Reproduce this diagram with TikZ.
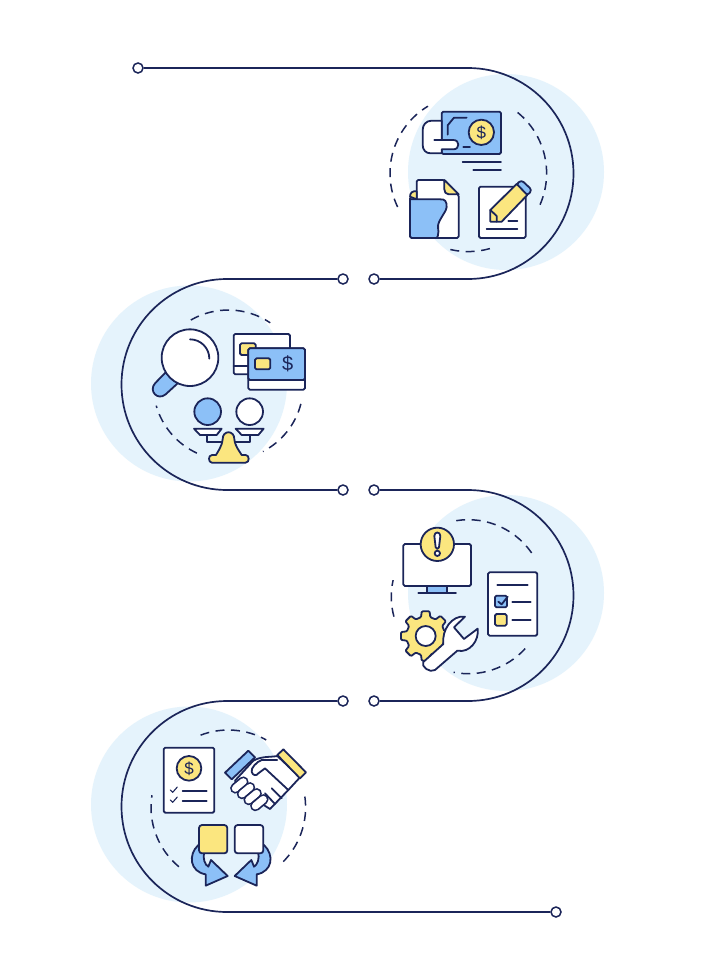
\documentclass[tikz,border=0pt]{standalone}
\usepackage{fontspec}
\setsansfont{Liberation Sans}
\definecolor{navy}{HTML}{1B2559}
\definecolor{skyblue}{HTML}{8CC0F7}
\definecolor{paleblue}{HTML}{E5F3FC}
\definecolor{lemon}{HTML}{FBE67F}
\begin{document}
\begin{tikzpicture}
		[x=1pt,y=1pt,yscale=-1]
			\tikzstyle{dot}=[circle, draw=navy, fill=white, line width=1.5pt,
		inner sep=0pt, minimum width=10pt]
			\tikzstyle{link}=[draw=navy, line width=1.7pt]
			\tikzstyle{ring}=[draw=navy, line width=1.5pt, dash pattern=on 9pt off 6.5pt]
			\tikzstyle{icon}=[draw=navy, line width=1.8pt, line join=round, line cap=round]
			\tikzstyle{box}=[icon, rounded corners=1.5pt]
			\tikzstyle{money}=[font=\sffamily, text=navy, inner sep=0pt]
		\path[fill=white,use as bounding box] (0,0) rectangle (703,980);
		%-----backdrop
		 \foreach \cx/\cy in {506/172, 189/383.5, 506/593, 189/804.5}
		 \fill[paleblue] (\cx,\cy) circle (98);
		 
		 \foreach \cx/\cy/\rr/\from/\to in {468.3/173.3/78.3/-51/26, 468.3/173.3/78.3/74/107, 468.3/173.3/78.3/154.5/239,
		 228.3/385/75/-120/-56, 228.3/385/75/14.6/62.5, 228.3/385/75/114.8/164,
		 468.3/596.7/77/-99/-31, 468.3/596.7/77/42.4/101, 468.3/596.7/77/165/192.4,
		 228.3/807.3/77.3/-111/-60.6, 228.3/807.3/77.3/-8/46, 228.3/807.3/77.3/129.7/189}
		 \draw[ring] (\cx,\cy)+(\from:\rr) arc[start angle=\from,end angle=\to,radius=\rr];
		 
		%-----path
		 \node[dot] (S)  at (138,68) {};
		 \node[dot] (A1) at (374,279) {};
		 \node[dot] (A2) at (343,279) {};
		 \node[dot] (B1) at (343,490) {};
		 \node[dot] (B2) at (374,490) {};
		 \node[dot] (C1) at (374,701) {};
		 \node[dot] (C2) at (343,701) {};
		 \node[dot] (E)  at (556,912) {};
		 
		 \draw[link] (S) -- (468,68) arc[start angle=-90,end angle=90,radius=105.5] -- (A1);
		 \draw[link] (A2) -- (227,279) arc[start angle=270,end angle=90,radius=105.5] -- (B1);
		 \draw[link] (B2) -- (468,490) arc[start angle=-90,end angle=90,radius=105.5] -- (C1);
		 \draw[link] (C2) -- (227,701) arc[start angle=270,end angle=90,radius=105.5] -- (E);
		 
		%-----first icon
		 \begin{scope}[shift={(380,60)},scale=1/3]
		  \draw[box,fill=skyblue] (185,155) rectangle (363,282);
		  \draw[icon] (203,224) -- (203,196) -- (222,173) -- (260,173);
		  \draw[icon] (250,262) -- (270,262);
		  \draw[icon,fill=lemon] (304,217) circle (38);
		  \node[money,font=\sffamily\fontsize{17}{17}\selectfont] (coinA) at (304,217) {\$};
		  \draw[icon,fill=white] (185,240) -- (185,182) -- (155,182) .. controls (138,182) and (128,195) .. (128,210) -- (128,255)
		   .. controls (128,270) and (138,280) .. (152,280) -- (185,280) -- (185,268) -- (220,268)
		   .. controls (240,268) and (240,240) .. (220,240) -- (163,240);
		  \draw[icon] (248,305) -- (363,305);
		  \draw[icon] (280,329) -- (363,329);
		  % sheet and folder
		  \draw[box,fill=white] (110,395) -- (110,360) -- (193,360) -- (236,405) -- (236,534) -- (170,534) -- (110,534) -- cycle;
		  \draw[icon,fill=lemon] (193,360) -- (236,403) -- (206,403) .. controls (197,403) and (193,395) .. (193,388) -- cycle;
		  \draw[icon,fill=lemon] (110,394) .. controls (98,392) and (90,398) .. (90,410) -- (110,418) -- cycle;
		  \draw[box,fill=skyblue] (90,410) .. controls (90,418) and (95,418) .. (105,418) -- (185,418)
		   .. controls (200,420) and (203,440) .. (195,455) .. controls (180,480) and (172,490) .. (175,510)
		   .. controls (176,522) and (172,534) .. (165,534) -- (90,534) -- cycle;
		  % note and pencil
		  \draw[box,fill=white] (297,380) rectangle (437,534);
		  \draw[icon] (320,508) -- (412,508);
		  \draw[icon] (385,484) -- (412,484);
		  \draw[icon,fill=skyblue,rounded corners=3pt] (408,374) -- (424,360) -- (456,390) -- (442,407) -- cycle;
		  \draw[icon,fill=lemon] (331,450) -- (410,372) -- (442,405) -- (365,485) -- (331,485) -- cycle;
		  \draw[icon] (331,450) -- (350,468) -- (350,485);
		 \end{scope}
		 
		%-----second icon
		 \begin{scope}[shift={(85,275)},scale=1/3]
		  \draw[icon,fill=skyblue] (242,292) -- (210,325) .. controls (190,348) and (218,378) .. (242,358) -- (278,325) -- cycle;
		  \draw[icon,fill=white] (315,248) circle (85);
		  \draw[icon] (315,193) arc[start angle=-90,end angle=0,radius=58];
		  % cards
		  \draw[box,fill=white] (446,177) rectangle (615,298);
		  \draw[icon] (446,272) -- (490,272);
		  \draw[box,fill=lemon] (465,205) rectangle (512,240);
		  \draw[box,fill=white] (490,220) rectangle (660,344);
		  \draw[box,fill=skyblue] (490,220) rectangle (660,315);
		  \draw[box,fill=lemon] (510,250) rectangle (556,283);
		  \node[money,font=\sffamily\fontsize{20}{20}\selectfont] (cardB) at (608,267) {\$};
		  % balance
		  \draw[icon,fill=skyblue] (368,410) circle (40);
		  \draw[icon,fill=white] (494,410) circle (40);
		  \draw[icon] (367,480) -- (367,500) -- (495,500) -- (495,480);
		  \draw[icon,fill=white] (327,461) -- (410,461) -- (395,480) -- (345,480) -- cycle;
		  \draw[icon,fill=white] (452,461) -- (536,461) -- (520,480) -- (470,480) -- cycle;
		  \draw[icon,fill=lemon] (413,492) .. controls (413,465) and (448,465) .. (448,492)
		   .. controls (450,515) and (465,530) .. (470,540) -- (482,540)
		   .. controls (494,540) and (494,563) .. (482,563) -- (381,563)
		   .. controls (369,563) and (369,540) .. (381,540) -- (393,540)
		   .. controls (398,530) and (411,515) .. (413,492) -- cycle;
		 \end{scope}
		 
		%-----third icon
		 \begin{scope}[shift={(380,490)},scale=1/3]
		  \draw[icon,fill=skyblue] (142,288) rectangle (202,310);
		  \draw[box,fill=white] (70,162) rectangle (273,288);
		  \draw[icon] (115,310) -- (228,310);
		  \draw[icon,fill=lemon] (172,163) circle (50);
		  \draw[icon,fill=white] (163,138) .. controls (163,124) and (181,124) .. (181,138) -- (177,172) .. controls (176,178) and (168,178) .. (167,172) -- cycle;
		  \draw[icon,fill=white] (172,190) circle (8);
		  % list
		  \draw[box,fill=white] (324,247) rectangle (472,437);
		  \draw[icon] (352,284) -- (443,284);
		  \draw[box,fill=skyblue] (345,317) rectangle (381,352);
		  \draw[icon] (355,335) -- (365,343) -- (383,320);
		  \draw[icon] (397,335) -- (452,335);
		  \draw[box,fill=lemon] (345,372) rectangle (380,407);
		  \draw[icon] (397,389) -- (452,389);
		  % gear and spanner
		  \begin{scope}[shift={(137,438)}]
		   \draw[icon,fill=lemon,rounded corners=1pt] (-14:58)
		   \foreach \a in {0,45,...,315} { -- (\a-14:58) -- (\a-9:75) -- (\a+9:75) -- (\a+14:58) } -- cycle;
		   \draw[icon,fill=white] (0,0) circle (30);
		  \end{scope}
		  \draw[icon,fill=white] (255,380) -- (222,412) -- (252,447) -- (293,416)
		   .. controls (298,450) and (270,490) .. (232,482) -- (165,540)
		   .. controls (150,550) and (122,530) .. (130,516) -- (190,462)
		   .. controls (185,420) and (215,375) .. (255,380) -- cycle;
		 \end{scope}
		 
		%-----fourth icon
		 \begin{scope}[shift={(85,700)},scale=1/3]
		  \draw[box,fill=white] (236,143) rectangle (388,338);
		  \draw[icon,fill=lemon] (312,205) circle (37);
		  \node[money,font=\sffamily\fontsize{17}{17}\selectfont] (coinD) at (312,205) {\$};
		  \foreach \y in {270,300}
		  \draw[icon,line width=1.1pt] (256,\y) -- (263,\y+7) -- (277,\y-9);
		  \draw[icon] (293,272) -- (365,272);
		  \draw[icon] (293,302) -- (365,302);
		 \end{scope}
		 
		 \begin{scope}[shift={(220,740)},scale=1/3]
		  \draw[icon,fill=white] (45,122) -- (100,62) .. controls (125,48) and (150,52) .. (172,48) -- (240,112)
		   -- (205,150) -- (150,207) -- (60,150) -- cycle;
		  \draw[icon,fill=skyblue] (15,98) -- (85,32) -- (105,52) -- (35,118) -- cycle;
		  \draw[icon,fill=lemon] (172,45) -- (190,28) -- (258,97) -- (240,115) -- cycle;
		  \foreach \fx/\fy in {58/135, 78/152, 98/170, 118/188} {
		   \draw[navy,line width=10.5pt,line cap=round] (\fx-12,\fy+10) -- (\fx+12,\fy-10);
		   \draw[white,line width=7pt,line cap=round] (\fx-12,\fy+10) -- (\fx+12,\fy-10);
		  }
		  \draw[icon,fill=white] (172,60) -- (125,60) .. controls (110,65) and (92,85) .. (95,95)
		   .. controls (98,108) and (110,108) .. (115,100) -- (135,85) -- (205,150);
		  \draw[icon] (155,145) -- (185,175);
		  \draw[icon] (135,160) -- (165,192);
		 \end{scope}
		 
		 \begin{scope}[shift={(185,815)},scale=1/3]
		  \draw[icon,fill=skyblue] (40,90) .. controls (8,120) and (15,170) .. (62,178) -- (62,212) -- (128,183)
		   -- (78,135) -- (70,155) .. controls (60,150) and (52,130) .. (58,110) -- cycle;
		  \draw[icon,fill=skyblue] (237,90) .. controls (269,120) and (262,170) .. (215,178) -- (215,212) -- (149,183)
		   -- (199,135) -- (207,155) .. controls (217,150) and (225,130) .. (219,110) -- cycle;
		  \draw[icon,fill=lemon,rounded corners=3pt] (42,30) rectangle (127,115);
		  \draw[icon,fill=white,rounded corners=3pt] (149,30) rectangle (235,115);
		 \end{scope}
		\end{tikzpicture}
\end{document}
